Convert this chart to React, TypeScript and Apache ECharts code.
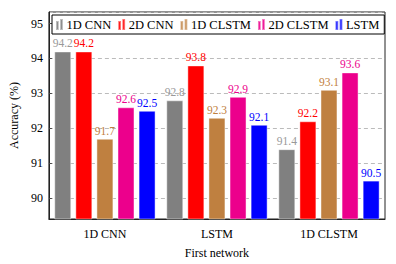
import React, { useEffect, useRef } from "react";
import * as echarts from "echarts";

const categories = ["1D CNN", "LSTM", "1D CLSTM"];
const seriesNames = ["1D CNN", "2D CNN", "1D CLSTM", "2D CLSTM", "LSTM"];
const cnn1d = [94.2, 92.8, 91.4];
const cnn2d = [94.2, 93.8, 92.2];
const clstm1d = [91.7, 92.3, 93.1];
const clstm2d = [92.6, 92.9, 93.6];
const lstm = [92.5, 92.1, 90.5];
const seriesValues = [cnn1d, cnn2d, clstm1d, clstm2d, lstm];
const colors = ["#808080", "#ff0000", "#bf8040", "#ec008c", "#0000ff"];
const labelColors = ["#999999", "#ff0000", "#bf8040", "#ec008c", "#0000ff"];

const FONT = "'Liberation Serif', 'DejaVu Serif', serif";

export default function App() {
  const ref = useRef<HTMLDivElement>(null);
  useEffect(() => {
    document.body.style.margin = "0";
    const chart = echarts.init(ref.current!, null, { renderer: "svg" });
    chart.setOption({
      animation: false,
      textStyle: { fontFamily: FONT },
      grid: {
        left: 42,
        right: 11,
        top: 12,
        bottom: 40,
        show: true,
        borderColor: "#222",
        borderWidth: 1,
        backgroundColor: "transparent",
      },
      legend: {
        left: 52,
        top: 15,
        padding: [3, 5, 3, 3],
        itemGap: 6,
        itemWidth: 10,
        itemHeight: 11,
        borderColor: "#000",
        borderWidth: 1,
        backgroundColor: "#fff",
        icon: "path://M0,3h4v13h-4z M6,0h4v16h-4z",
        textStyle: { fontFamily: FONT, fontSize: 12.5, color: "#000", padding: [0, 0, 0, -3] },
        data: seriesNames,
      },
      xAxis: {
        type: "category",
        data: categories,
        name: "First network",
        nameLocation: "middle",
        nameGap: 28,
        nameTextStyle: { fontFamily: FONT, fontSize: 12, color: "#000" },
        axisLine: { lineStyle: { color: "#222" } },
        axisTick: { show: false },
        axisLabel: { fontFamily: FONT, fontSize: 12, color: "#000", margin: 9 },
      },
      yAxis: {
        type: "value",
        min: 89.4,
        max: 95.33,
        splitNumber: 5,
        name: "Accuracy (%)",
        nameLocation: "middle",
        nameGap: 28,
        nameTextStyle: { fontFamily: FONT, fontSize: 12, color: "#000" },
        axisLine: { show: true, lineStyle: { color: "#222" } },
        axisTick: { show: true, inside: true, length: 3, lineStyle: { color: "#444" } },
        axisLabel: {
          fontFamily: FONT,
          fontSize: 12,
          color: "#000",
          margin: 6,
          showMinLabel: false,
          showMaxLabel: false,
        },
        splitLine: { lineStyle: { color: "#bbb", type: [4, 3], width: 1 } },
      },
      series: seriesNames.map((name, i) => ({
        name,
        type: "bar",
        data: seriesValues[i],
        barWidth: 17,
        barGap: "24%",
        itemStyle: {
          color: colors[i],
          borderColor: "rgba(255,255,255,0.45)",
          borderWidth: 1,
        },
        label: {
          show: true,
          position: "top",
          distance: 2,
          fontFamily: FONT,
          fontSize: 11.5,
          color: labelColors[i],
          formatter: (p: any) => p.value.toFixed(1),
        },
      })),
    });
    return () => chart.dispose();
  }, []);
  return <div ref={ref} style={{ width: 396, height: 264 }} />;
}
